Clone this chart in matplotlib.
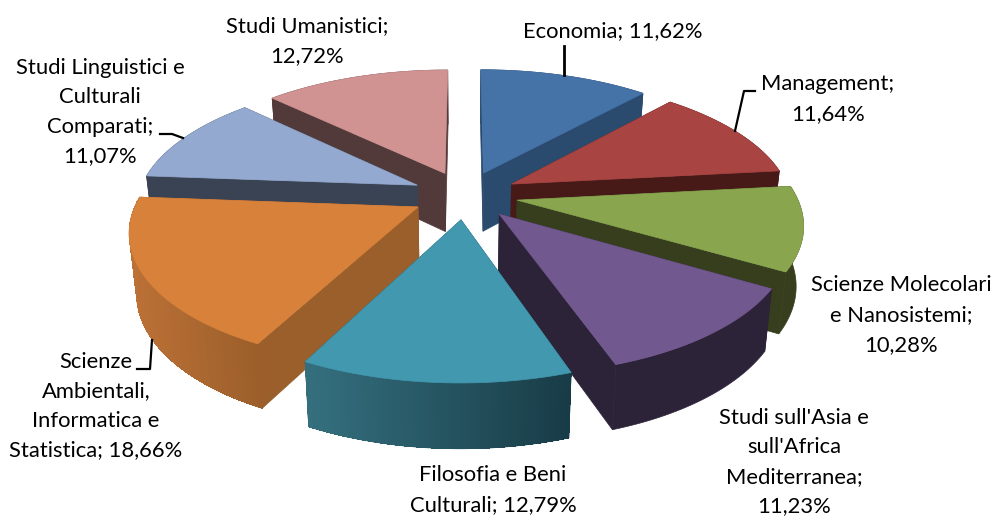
import numpy as np
import matplotlib
matplotlib.use('Agg')
import matplotlib.pyplot as plt
from matplotlib.patches import Polygon

categorie = ["Economia", "Management", "Scienze Molecolari\ne Nanosistemi", "Studi sull'Asia e\nsull'Africa\nMediterranea",
             "Filosofia e Beni\nCulturali", "Scienze\nAmbientali,\nInformatica e\nStatistica",
             "Studi Linguistici e\nCulturali\nComparati", "Studi Umanistici"]
valori = [11.62, 11.64, 10.28, 11.23, 12.79, 18.66, 11.07, 12.72]
separatori = [" ", "\n", "\n", "\n", " ", " ", "\n", "\n"]

col_top = ["#4572A7", "#A84442", "#89A54E", "#71588F", "#4198AF", "#D8813B", "#93A9CF", "#D19392"]
col_lato = ["#2A4A6E", "#471A18", "#363E1E", "#2D2339", "#1D4854", "#9A5F2A", "#3A4354", "#533A3A"]
# colori del bordo esterno, da sinistra a destra
col_bordo_a = ["#2A4A6E", "#471A18", "#363E1E", "#2D2339", "#35707F", "#BC7136", "#3A4354", "#533A3A"]
col_bordo_b = ["#2A4A6E", "#471A18", "#363E1E", "#2D2339", "#183C47", "#9C5F2B", "#3A4354", "#533A3A"]

pos_testo = [(613, 31), (828, 99), (901, 315), (794, 462), (493, 490), (96, 406), (100, 112), (307, 41)]
ordine = [7, 0, 6, 1, 5, 2, 3, 4]

cx, cy = 465, 195
rx, ry = 279, 127
k = 0.165
esplosione = 0.19
prof = 59


def proietta(X, Y, basso=False):
    w = 1 + k * Y
    px = cx + rx * X / w
    py = cy - ry * Y / w
    if basso:
        px = cx + (px - cx) * 0.978
        py = py + prof / np.sqrt(w)
    return px, py


def hexrgb(c):
    return np.array(matplotlib.colors.to_rgb(c))


fig = plt.figure(figsize=(9.97, 5.19), dpi=100)
ax = fig.add_axes([0, 0, 1, 1])
ax.set_xlim(0, 997)
ax.set_ylim(519, 0)
ax.axis('off')

tot = sum(valori)
fine = np.cumsum(valori) / tot * 2 * np.pi
inizio = np.concatenate(([0], fine[:-1]))

for z, i in enumerate(ordine):
    a0, a1 = inizio[i], fine[i]
    mid = (a0 + a1) / 2
    ox, oy = esplosione * np.sin(mid), esplosione * np.cos(mid)
    ang = np.linspace(a0, a1, 60)
    X = ox + np.sin(ang)
    Y = oy + np.cos(ang)
    top = np.column_stack(proietta(X, Y))
    bot = np.column_stack(proietta(X, Y, True))
    apice = np.array(proietta(ox, oy))
    apice_b = np.array(proietta(ox, oy, True))
    zo = 2 + z
    # facce radiali
    for p_top, p_bot in ((top[0], bot[0]), (top[-1], bot[-1])):
        ax.add_patch(Polygon([apice, p_top, p_bot, apice_b], closed=True, fc=col_lato[i], ec=col_lato[i], lw=0.5, zorder=zo))
    # bordo esterno: base unica, poi sfumatura senza antialias per non avere righe
    media = (hexrgb(col_bordo_a[i]) + hexrgb(col_bordo_b[i])) / 2
    ax.add_patch(Polygon(np.vstack([top, bot[::-1]]), closed=True, fc=media, ec=media, lw=0.5, zorder=zo))
    if col_bordo_a[i] != col_bordo_b[i]:
        xmin, xmax = top[:, 0].min(), top[:, 0].max()
        for j in range(len(ang) - 1):
            t = (top[j, 0] - xmin) / max(xmax - xmin, 1)
            c = hexrgb(col_bordo_a[i]) * (1 - t) + hexrgb(col_bordo_b[i]) * t
            ax.add_patch(Polygon([top[j], top[j + 1], bot[j + 1], bot[j]], closed=True, fc=c, ec='none', antialiased=False, zorder=zo))
    ax.add_patch(Polygon(np.vstack([apice, top]), closed=True, fc=col_top[i], ec=col_top[i], lw=0.5, zorder=zo + 0.5))

# linee guida
ax.plot([564, 564], [46, 75], color='black', lw=2, zorder=20)
ax.plot([755, 744, 735], [91, 91, 131], color='black', lw=1.6, zorder=20)
ax.plot([160, 172, 183], [134, 134, 138], color='black', lw=1.6, zorder=20)
ax.plot([137, 150, 152], [369, 369, 340], color='black', lw=1.6, zorder=20)

for i in range(len(categorie)):
    testo = categorie[i] + ";" + separatori[i] + ("%.2f" % valori[i]).replace(".", ",") + "%"
    ax.text(pos_testo[i][0], pos_testo[i][1], testo, ha='center', va='center', family='Lato',
            fontsize=15.8, linespacing=1.6, color='black', zorder=30)

fig.savefig('out.png', dpi=100)
